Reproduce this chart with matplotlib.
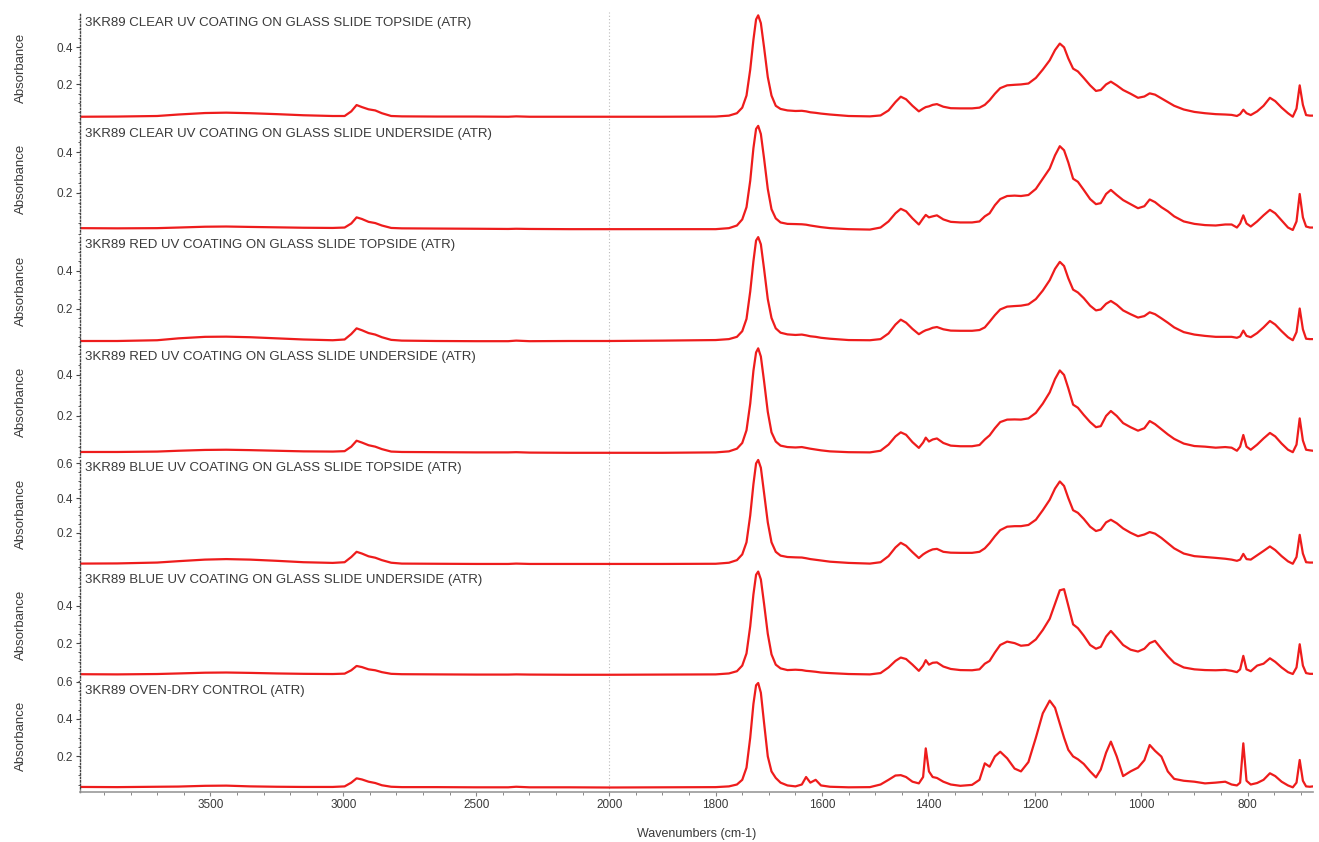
import numpy as np
import matplotlib
matplotlib.use("Agg")
import matplotlib.pyplot as plt
from matplotlib.ticker import FixedLocator, MultipleLocator

plt.rcParams['font.family'] = ['Liberation Sans', 'DejaVu Sans']

# ---------------- data ----------------
WN = [3990, 3850, 3700, 3620, 3520, 3440, 3350, 3250, 3150, 3040,
      2995, 2970, 2950, 2930, 2905, 2880, 2855, 2820, 2780, 2650,
      2500, 2380, 2350, 2300, 2150, 2000, 1900,
      1800, 1775, 1760, 1750, 1742, 1735, 1729, 1724, 1720, 1715,
      1709, 1702, 1695, 1687, 1678, 1665, 1650, 1638, 1630, 1622,
      1612, 1602, 1585, 1550, 1510, 1490, 1475, 1462, 1452, 1442,
      1430, 1418, 1410, 1405, 1399, 1392, 1384, 1372, 1358, 1340,
      1318, 1304, 1294, 1285, 1275, 1265, 1252, 1238, 1226, 1212,
      1198, 1185, 1172, 1162, 1153, 1145, 1137, 1128, 1119, 1108,
      1096, 1085, 1076, 1066, 1057, 1046, 1034, 1020, 1006, 994,
      984, 974, 962, 950, 938, 920, 900, 880, 860, 842,
      830, 820, 814, 808, 802, 794, 782, 770, 758, 748,
      736, 724, 715, 708, 702, 696, 690, 683, 677]

CLEAR_TOP = [.026, .027, .030, .038, .046, .048, .045, .040, .034, .030,
             .030, .055, .089, .078, .066, .060, .045, .030, .028, .027,
             .027, .026, .028, .026, .026, .026, .026,
             .027, .032, .045, .075, .14, .28, .44, .55, .572, .53,
             .40, .24, .14, .085, .068, .060, .057, .058, .055, .050,
             .047, .043, .038, .030, .028, .033, .060, .105, .134, .12,
             .085, .055, .070, .078, .082, .090, .094, .080, .072, .071,
             .071, .075, .090, .115, .15, .18, .195, .198, .20, .205,
             .235, .28, .33, .385, .42, .40, .34, .285, .27, .235,
             .195, .165, .17, .20, .215, .195, .17, .15, .128, .135,
             .152, .145, .125, .105, .085, .065, .052, .045, .040, .038,
             .036, .030, .040, .064, .045, .035, .055, .085, .128, .11,
             .075, .045, .026, .07, .195, .09, .035, .032, .032]

CLEAR_UNDER = [.027, .026, .027, .030, .034, .035, .033, .031, .029, .028,
               .030, .050, .080, .072, .058, .052, .040, .028, .026, .025,
               .024, .023, .024, .023, .022, .022, .022,
               .022, .027, .040, .070, .13, .26, .42, .515, .53, .49,
               .37, .22, .12, .075, .055, .048, .047, .046, .044, .040,
               .036, .032, .027, .022, .020, .030, .060, .10, .122, .11,
               .075, .045, .075, .092, .080, .085, .090, .070, .058, .055,
               .055, .060, .085, .10, .14, .17, .185, .187, .185, .19,
               .22, .27, .32, .385, .43, .41, .35, .27, .255, .215,
               .17, .145, .15, .195, .215, .19, .165, .145, .125, .135,
               .168, .155, .13, .11, .085, .06, .048, .042, .040, .045,
               .045, .030, .050, .090, .050, .035, .060, .090, .117, .10,
               .065, .030, .018, .06, .195, .08, .035, .030, .030]

RED_TOP = [.028, .028, .032, .042, .050, .051, .048, .042, .036, .032,
           .036, .065, .095, .085, .070, .062, .048, .034, .030, .028,
           .027, .027, .030, .027, .028, .028, .030,
           .033, .038, .050, .080, .145, .29, .45, .56, .578, .54,
           .41, .25, .15, .095, .072, .063, .060, .062, .058, .053,
           .050, .045, .040, .033, .032, .038, .068, .115, .141, .125,
           .092, .064, .078, .085, .090, .098, .102, .090, .083, .082,
           .082, .086, .10, .13, .165, .195, .21, .213, .215, .222,
           .25, .295, .35, .41, .447, .425, .36, .30, .285, .255,
           .215, .19, .195, .225, .24, .22, .19, .17, .152, .16,
           .18, .17, .148, .125, .10, .075, .062, .055, .050, .050,
           .050, .045, .052, .083, .055, .048, .070, .10, .134, .115,
           .08, .048, .032, .075, .20, .09, .040, .038, .038]

RED_UNDER = [.024, .024, .026, .030, .034, .035, .033, .030, .027, .026,
             .028, .050, .079, .070, .057, .050, .038, .026, .024, .023,
             .022, .022, .023, .021, .020, .020, .020,
             .022, .027, .040, .068, .13, .26, .42, .51, .53, .49,
             .37, .22, .12, .075, .055, .048, .046, .048, .044, .040,
             .036, .032, .027, .023, .022, .030, .060, .10, .12, .108,
             .072, .044, .070, .094, .075, .085, .090, .068, .055, .052,
             .052, .058, .085, .105, .14, .17, .182, .183, .182, .188,
             .215, .26, .315, .38, .422, .40, .335, .255, .24, .205,
             .17, .145, .15, .20, .224, .20, .165, .145, .128, .14,
             .175, .16, .135, .11, .088, .065, .053, .050, .045, .048,
             .045, .030, .050, .107, .050, .035, .060, .090, .117, .10,
             .065, .035, .023, .06, .188, .08, .035, .032, .030]

BLUE_TOP = [.022, .023, .028, .036, .045, .048, .045, .038, .030, .026,
            .030, .060, .090, .080, .064, .056, .042, .027, .022, .021,
            .020, .020, .022, .020, .020, .020, .020,
            .021, .027, .042, .075, .145, .30, .48, .60, .62, .575,
            .43, .26, .145, .09, .068, .060, .058, .057, .053, .048,
            .044, .040, .033, .026, .022, .030, .065, .115, .142, .125,
            .088, .054, .075, .085, .095, .104, .107, .090, .085, .084,
            .084, .090, .11, .14, .18, .215, .235, .238, .238, .245,
            .275, .33, .39, .455, .496, .47, .40, .33, .315, .28,
            .235, .21, .218, .26, .275, .255, .225, .20, .18, .19,
            .204, .195, .17, .14, .11, .08, .065, .060, .055, .050,
            .045, .038, .045, .078, .048, .045, .070, .095, .121, .10,
            .065, .035, .021, .06, .188, .08, .030, .028, .028]

BLUE_UNDER = [.034, .033, .035, .038, .042, .043, .041, .038, .036, .035,
              .037, .055, .078, .072, .060, .055, .045, .036, .034, .033,
              .032, .032, .033, .032, .031, .031, .032,
              .033, .038, .050, .080, .145, .29, .46, .565, .582, .54,
              .41, .25, .14, .085, .065, .056, .058, .056, .052, .050,
              .047, .043, .040, .035, .033, .040, .070, .105, .123, .115,
              .085, .052, .080, .109, .085, .095, .097, .075, .062, .056,
              .055, .060, .090, .105, .15, .19, .208, .20, .186, .19,
              .22, .27, .33, .41, .482, .488, .40, .30, .28, .24,
              .19, .17, .18, .235, .265, .23, .19, .165, .155, .17,
              .20, .212, .17, .13, .095, .07, .060, .056, .055, .057,
              .052, .045, .060, .132, .060, .050, .080, .090, .119, .10,
              .07, .045, .035, .07, .194, .08, .040, .036, .036]

OVEN_DRY = [.037, .036, .038, .039, .043, .044, .040, .038, .037, .037,
            .040, .060, .083, .077, .065, .058, .046, .038, .036, .036,
            .035, .035, .038, .035, .035, .034, .035,
            .036, .040, .050, .075, .14, .30, .48, .58, .592, .54,
            .38, .20, .12, .085, .060, .045, .040, .050, .090, .060,
            .075, .045, .038, .035, .036, .050, .075, .098, .10, .09,
            .065, .056, .09, .243, .12, .09, .085, .065, .050, .043,
            .048, .075, .163, .145, .20, .225, .19, .135, .12, .17,
            .30, .43, .498, .46, .375, .30, .235, .20, .185, .16,
            .12, .088, .13, .22, .279, .20, .095, .12, .14, .18,
            .261, .23, .199, .12, .08, .07, .065, .056, .060, .065,
            .050, .045, .060, .27, .07, .050, .058, .075, .11, .095,
            .065, .045, .035, .06, .181, .07, .040, .038, .040]

SERIES = [CLEAR_TOP, CLEAR_UNDER, RED_TOP, RED_UNDER, BLUE_TOP, BLUE_UNDER, OVEN_DRY]
TITLES = ["3KR89 CLEAR UV COATING ON GLASS SLIDE TOPSIDE (ATR)",
          "3KR89 CLEAR UV COATING ON GLASS SLIDE UNDERSIDE (ATR)",
          "3KR89 RED UV COATING ON GLASS SLIDE TOPSIDE (ATR)",
          "3KR89 RED UV COATING ON GLASS SLIDE UNDERSIDE (ATR)",
          "3KR89 BLUE UV COATING ON GLASS SLIDE TOPSIDE (ATR)",
          "3KR89 BLUE UV COATING ON GLASS SLIDE UNDERSIDE (ATR)",
          "3KR89 OVEN-DRY CONTROL (ATR)"]
YLIMS = [(-0.01, 0.59), (-0.006, 0.542), (0.0, 0.59), (-0.004, 0.54),
         (-0.01, 0.633), (0.0, 0.595), (0.01, 0.605)]
XTICKS = [3500, 3000, 2500, 2000, 1800, 1600, 1400, 1200, 1000, 800]

# ---------------- figure ----------------
W, H = 1319, 842
fig = plt.figure(figsize=(W / 100, H / 100), dpi=100)
fig.patch.set_facecolor('white')

left_px, right_px = 80, 1313
top_px, bot_px = 12, 792
n = len(SERIES)
ph = (bot_px - top_px) / n


def fwd(x):
    x = np.asarray(x, dtype=float)
    return np.where(x > 2000, 2000 + (x - 2000) / 2.0, x)


def inv(y):
    y = np.asarray(y, dtype=float)
    return np.where(y > 2000, 2000 + (y - 2000) * 2.0, y)


minor = list(range(3900, 2000, -100)) + list(range(1950, 650, -50))
minor = [m for m in minor if m not in XTICKS]

red = '#ee1c1c'
txtc = '#3a3a3a'
for i, (ys, title, yl) in enumerate(zip(SERIES, TITLES, YLIMS)):
    y_top = top_px + i * ph
    ax = fig.add_axes([left_px / W, 1 - (y_top + ph) / H, (right_px - left_px) / W, ph / H])
    ax.set_xscale('function', functions=(fwd, inv))
    ax.plot(WN, ys, color=red, lw=1.6, solid_joinstyle='round')
    ax.set_xlim(3990, 677)
    ax.set_ylim(*yl)
    ax.axvline(2000, color='#bbbbbb', lw=0.8, ls=(0, (1, 2)), zorder=0)
    for s in ['top', 'right']:
        ax.spines[s].set_visible(False)
    ax.spines['left'].set_linestyle((0, (1, 1.5)))
    ax.spines['left'].set_color('#444444')
    ax.spines['left'].set_linewidth(1.0)
    yt = [v for v in (0.2, 0.4, 0.6) if yl[0] <= v <= yl[1] + 0.006]
    ax.yaxis.set_major_locator(FixedLocator(yt))
    ax.set_yticklabels([f"{v:.1f}" for v in yt])
    ax.yaxis.set_minor_locator(MultipleLocator(0.05))
    ax.tick_params(axis='y', which='major', length=3, width=0.8, colors='#444444',
                   labelsize=8.5, labelcolor=txtc, pad=2)
    ax.tick_params(axis='y', which='minor', length=1.5, width=0.6, colors='#444444')
    ax.set_ylabel("Absorbance", fontsize=9.5, color=txtc)
    ax.yaxis.set_label_coords(-0.043, 0.5)
    ax.text(0.004, 0.905, title, transform=ax.transAxes, fontsize=9.5, color=txtc,
            ha='left', va='center')
    ax.xaxis.set_major_locator(FixedLocator(XTICKS))
    ax.xaxis.set_minor_locator(FixedLocator(minor))
    if i < n - 1:
        ax.spines['bottom'].set_visible(False)
        ax.tick_params(axis='x', which='both', bottom=False, labelbottom=False)
    else:
        ax.spines['bottom'].set_color('#999999')
        ax.spines['bottom'].set_linewidth(1.2)
        ax.set_xticklabels([str(t) for t in XTICKS])
        ax.tick_params(axis='x', which='major', length=3, width=0.8, colors='#888888',
                       labelsize=8.5, labelcolor=txtc, pad=2)
        ax.tick_params(axis='x', which='minor', length=2, width=0.7, colors='#888888')
        ax.set_xlabel("Wavenumbers (cm-1)", fontsize=9, color=txtc, labelpad=12)

fig.savefig("out.png", dpi=100, facecolor='white')
